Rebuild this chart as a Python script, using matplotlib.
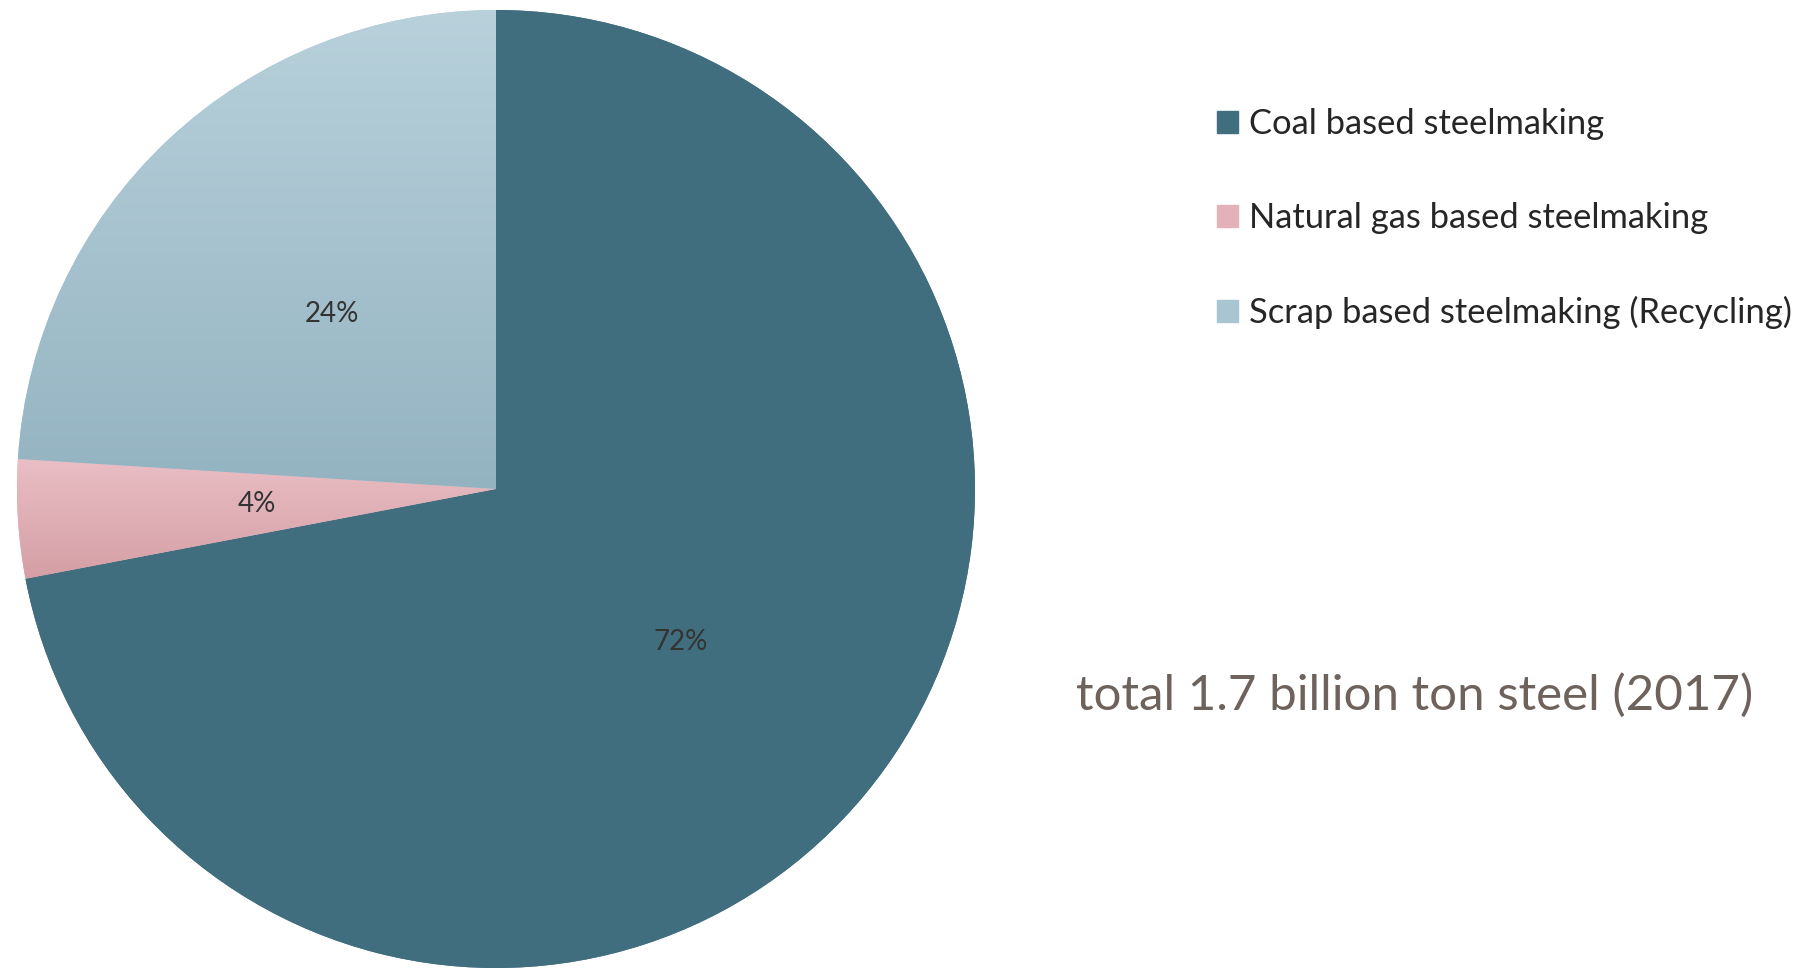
import matplotlib.pyplot as plt
import numpy as np
from matplotlib.patches import Rectangle
from matplotlib.colors import LinearSegmentedColormap

# data
labels = ['Coal based steelmaking', 'Natural gas based steelmaking',
          'Scrap based steelmaking (Recycling)']
shares = [72, 4, 24]
note = 'total 1.7 billion ton steel (2017)'

# top / bottom colour of each slice (slices have a soft vertical gradient)
top_colors = ['#416e7e', '#e9bec4', '#b8d1db']
bottom_colors = ['#416e7e', '#d49fa5', '#94b3c1']
mid_colors = ['#416e7e', '#e2b2b8', '#a8c6d2']

plt.rcParams['font.family'] = ['Lato', 'DejaVu Sans']

W, H = 1800, 973
fig = plt.figure(figsize=(W / 100, H / 100), dpi=100)

# pie axes placed so the circle sits where it does in the reference
cx, cy, r = 496, 489, 479
ax = fig.add_axes([(cx - r) / W, (H - cy - r) / H, 2 * r / W, 2 * r / H])

wedges, texts, autotexts = ax.pie(
    shares, startangle=90, counterclock=False, colors=mid_colors,
    autopct='%1.0f%%', pctdistance=0.5, radius=1,
    wedgeprops=dict(linewidth=0),
    textprops=dict(fontsize=20, color='#333333'))

# paint the gradients, clipped to each wedge
for w, c0, c1 in zip(wedges, top_colors, bottom_colors):
    verts = w.get_path().vertices
    x0, x1 = verts[:, 0].min(), verts[:, 0].max()
    y0, y1 = verts[:, 1].min(), verts[:, 1].max()
    cmap = LinearSegmentedColormap.from_list('g', [c1, c0])
    grad = np.linspace(0, 1, 256).reshape(-1, 1)
    im = ax.imshow(grad, cmap=cmap, origin='lower', aspect='auto',
                   extent=[x0, x1, y0, y1], zorder=w.get_zorder() + 0.1)
    im.set_clip_path(w)

for t in autotexts:
    t.set_zorder(5)

ax.set_xlim(-1, 1)
ax.set_ylim(-1, 1)
ax.set_aspect('equal')
ax.axis('off')

# legend with plain squares
handles = [Rectangle((0, 0), 1, 1, color=c) for c in mid_colors]
leg = fig.legend(handles, labels, loc='upper left',
                 bbox_to_anchor=(1217 / W, 1 - 108 / H),
                 frameon=False, fontsize=24.8, labelspacing=1.8,
                 borderpad=0, borderaxespad=0,
                 handlelength=0.6, handleheight=0.6, handletextpad=0.33,
                 labelcolor='#262626')

fig.text(1076 / W, 1 - 695 / H, note, fontsize=35.5, color='#6e625c',
         va='center', ha='left')

fig.savefig('out.png', dpi=100)
